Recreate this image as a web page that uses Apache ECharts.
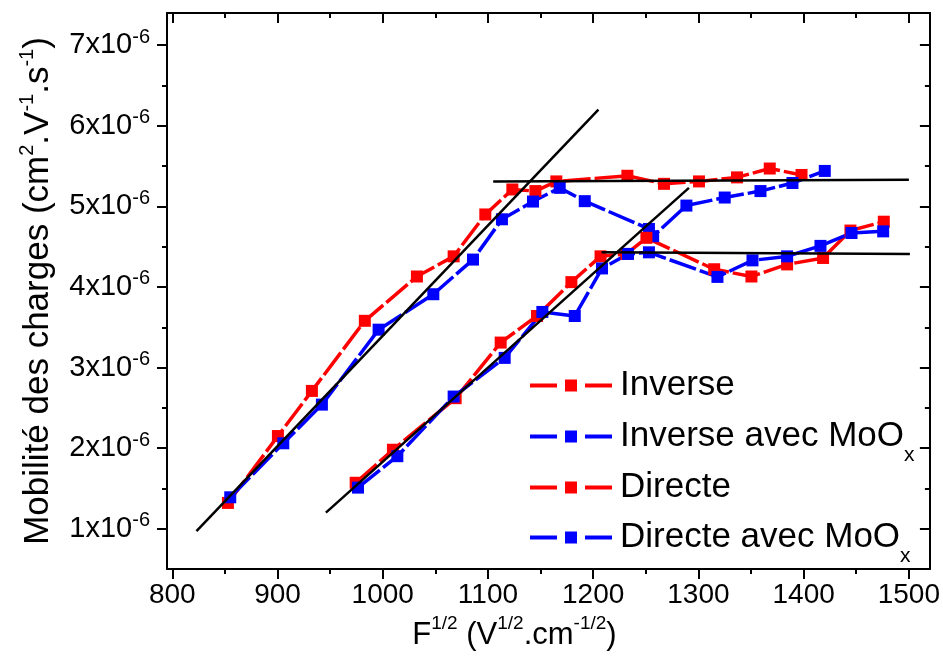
<!DOCTYPE html>
<html><head><meta charset="utf-8">
<script src="https://cdn.jsdelivr.net/npm/echarts@6/dist/echarts.min.js"></script>
<style>html,body{margin:0;padding:0;background:#fff}#c{width:943px;height:669px}</style>
</head><body><div id="c"></div>
<script>
// y values in units of 1e-6 cm^2.V^-1.s^-1
const inverseX = [852.9, 900.4, 932.7, 983.0, 1032.5, 1067.4, 1097.5, 1123.2, 1145.1, 1165.0, 1232.5, 1267.3, 1300.6, 1336.7, 1367.8, 1398.0];
const inverseY = [1.32, 2.15, 2.71, 3.58, 4.13, 4.38, 4.90, 5.21, 5.19, 5.31, 5.38, 5.28, 5.31, 5.36, 5.47, 5.39];
const inverseMoOxX = [855.1, 905.5, 942.2, 996.1, 1048.1, 1085.8, 1113.3, 1142.8, 1168.2, 1192.0, 1253.0, 1257.0, 1288.6, 1325.0, 1359.0, 1389.4, 1420.1];
const inverseMoOxY = [1.39, 2.06, 2.54, 3.47, 3.91, 4.34, 4.84, 5.06, 5.23, 5.065, 4.72, 4.63, 5.01, 5.11, 5.19, 5.29, 5.44];
const directeX = [974.3, 1009.7, 1069.3, 1112.1, 1146.6, 1179.3, 1207.0, 1231.6, 1250.6, 1315.0, 1350.4, 1384.3, 1418.5, 1444.5, 1476.2];
const directeY = [1.57, 1.98, 2.62, 3.31, 3.64, 4.06, 4.38, 4.41, 4.61, 4.22, 4.13, 4.28, 4.36, 4.70, 4.81];
const directeMoOxX = [976.5, 1013.9, 1067.4, 1115.9, 1151.7, 1182.5, 1208.4, 1233.1, 1253.0, 1318.1, 1351.4, 1384.3, 1416.0, 1445.5, 1475.6];
const directeMoOxY = [1.51, 1.90, 2.64, 3.12, 3.69, 3.64, 4.23, 4.41, 4.43, 4.125, 4.33, 4.38, 4.51, 4.67, 4.69];
// fitted straight lines (end points)
const fit1X = [823, 1205], fit1Y = [0.97, 6.20];
const fit2X = [946, 1291], fit2Y = [1.20, 5.23];
const plateau1X = [1105, 1500], plateau1Y = [5.31, 5.33];
const plateau2X = [1208, 1501], plateau2Y = [4.43, 4.41];

const seriesNames = ['Inverse', 'Inverse avec MoOx', 'Directe', 'Directe avec MoOx'];
const xMajor = [800, 900, 1000, 1100, 1200, 1300, 1400, 1500];
const xMinor = [850, 950, 1050, 1150, 1250, 1350, 1450];
const yMajor = [1, 2, 3, 4, 5, 6, 7];
const yMinor = [1.5, 2.5, 3.5, 4.5, 5.5, 6.5];
const X_MIN = 795, X_MAX = 1520, Y_MIN = 0.5, Y_MAX = 7.4;

const FONT = 'Liberation Sans';
const zip = (xs, ys) => xs.map((x, i) => [x, ys[i]]);
const RED = '#ff0000', BLUE = '#0000ff';
const DASH = [28, 4];

function dataSeries(name, xs, ys, color) {
  return {
    name: name, type: 'line', data: zip(xs, ys),
    symbol: 'rect', symbolSize: 12,
    lineStyle: { color: color, width: 3.5, type: DASH },
    itemStyle: { color: color },
    z: 3
  };
}
function fitSeries(xs, ys) {
  return {
    type: 'line', data: zip(xs, ys), symbol: 'none', silent: true,
    lineStyle: { color: '#000', width: 2.5 }, z: 4
  };
}

const axisLineStyle = { color: '#000', width: 2 };
function xAx(opts) {
  return Object.assign({
    type: 'value', min: X_MIN, max: X_MAX, gridIndex: 0,
    splitLine: { show: false },
    axisLine: { show: true, onZero: false, lineStyle: axisLineStyle },
    axisLabel: { show: false }
  }, opts);
}
function yAx(opts) {
  return Object.assign({
    type: 'value', min: Y_MIN, max: Y_MAX, gridIndex: 0,
    splitLine: { show: false },
    axisLine: { show: true, onZero: false, lineStyle: axisLineStyle },
    axisLabel: { show: false }
  }, opts);
}

const legendText = {
  fontFamily: FONT, color: '#000',
  rich: {
    t: { fontFamily: FONT, fontSize: 35, lineHeight: 40, color: '#000', padding: [0, 0, 0, 3] },
    s: { fontFamily: FONT, fontSize: 21, lineHeight: 20, color: '#000', padding: [38, 0, 0, 0] }
  }
};
const legendFmt = name => name.endsWith('MoOx') ? '{t|' + name.slice(0, -1) + '}{s|x}' : '{t|' + name + '}';
function legendAt(names, top, gap) {
  return {
    data: names, left: 528, top: top, orient: 'vertical', padding: 0,
    itemWidth: 82, itemHeight: 15, itemGap: gap,
    lineStyle: { type: [27, 28], width: 4 },
    formatter: legendFmt, textStyle: legendText, selectedMode: false
  };
}

const chart = echarts.init(document.getElementById('c'), null, { renderer: 'canvas' });
chart.setOption({
  animation: false,
  backgroundColor: '#fff',
  grid: { left: 167, right: 12, top: 13, bottom: 100 },
  legend: [
    legendAt([seriesNames[0], seriesNames[1]], 368, 4),
    legendAt([seriesNames[2], seriesNames[3]], 470, 3)
  ],
  xAxis: [
    xAx({
      position: 'bottom',
      axisTick: { show: true, customValues: xMajor, length: 10, lineStyle: axisLineStyle },
      axisLabel: { show: true, customValues: xMajor, fontSize: 28, fontFamily: FONT, color: '#000', margin: 12,
        formatter: v => String(v) },
      name: '{t|F}{s|1/2}{t| (V}{s|1/2}{t|.cm}{s|-1/2}{t|)}',
      nameLocation: 'middle', nameGap: 42,
      nameTextStyle: {
        padding: [0, 68, 0, 0],
        rich: {
          t: { fontFamily: FONT, fontSize: 31, lineHeight: 44, color: '#000' },
          s: { fontFamily: FONT, fontSize: 19, verticalAlign: 'top', color: '#000' }
        }
      }
    }),
    xAx({ position: 'bottom', axisLine: { show: false },
      axisTick: { show: true, customValues: xMinor, length: 5, lineStyle: axisLineStyle } }),
    xAx({ position: 'top',
      axisTick: { show: true, inside: true, customValues: xMajor, length: 10, lineStyle: axisLineStyle } }),
    xAx({ position: 'top', axisLine: { show: false },
      axisTick: { show: true, inside: true, customValues: xMinor, length: 5, lineStyle: axisLineStyle } })
  ],
  yAxis: [
    yAx({
      position: 'left',
      axisTick: { show: true, customValues: yMajor, length: 10, lineStyle: axisLineStyle },
      axisLabel: {
        show: true, customValues: yMajor, margin: 17,
        formatter: v => '{a|' + v + 'x10}{b|-6}',
        rich: {
          a: { fontFamily: FONT, fontSize: 29, lineHeight: 36, color: '#000' },
          b: { fontFamily: FONT, fontSize: 20, verticalAlign: 'top', color: '#000' }
        }
      },
      name: '{t|Mobilité des charges (cm}{s|2}{t|.V}{s|-1}{t|.s}{s|-1}{t|)}',
      nameLocation: 'middle', nameGap: 107,
      nameTextStyle: {
        rich: {
          t: { fontFamily: FONT, fontSize: 35, lineHeight: 43, color: '#000' },
          s: { fontFamily: FONT, fontSize: 20, verticalAlign: 'top', color: '#000' }
        }
      }
    }),
    yAx({ position: 'left', axisLine: { show: false },
      axisTick: { show: true, customValues: yMinor, length: 5, lineStyle: axisLineStyle } }),
    yAx({ position: 'right',
      axisTick: { show: true, inside: true, customValues: yMajor, length: 10, lineStyle: axisLineStyle } }),
    yAx({ position: 'right', axisLine: { show: false },
      axisTick: { show: true, inside: true, customValues: yMinor, length: 5, lineStyle: axisLineStyle } })
  ],
  series: [
    dataSeries(seriesNames[0], inverseX, inverseY, RED),
    dataSeries(seriesNames[1], inverseMoOxX, inverseMoOxY, BLUE),
    dataSeries(seriesNames[2], directeX, directeY, RED),
    dataSeries(seriesNames[3], directeMoOxX, directeMoOxY, BLUE),
    fitSeries(fit1X, fit1Y),
    fitSeries(fit2X, fit2Y),
    fitSeries(plateau1X, plateau1Y),
    fitSeries(plateau2X, plateau2Y)
  ]
});
</script>
</body></html>
